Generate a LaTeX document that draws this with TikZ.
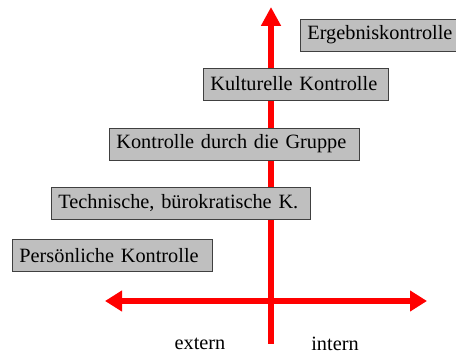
\documentclass[tikz,border=0pt]{standalone}
\usepackage{fontspec}
\setmainfont{Liberation Serif}
\usetikzlibrary{arrows.meta}
\begin{document}
\begin{tikzpicture}[
    x=1pt, y=-1pt,
    ctrlbox/.style={rectangle, draw=black!75, line width=0.8pt, fill=black!25, anchor=west, minimum height=32pt, inner xsep=7pt, align=left, font=\fontsize{20.3}{24}\selectfont},
    axislabel/.style={font=\fontsize{20.3}{24}\selectfont},
    axis/.style={red, line width=6pt}
]
\useasboundingbox (0,0) rectangle (456,358);

% Axis end points
\coordinate (vbot) at (271,344);
\coordinate (vtop) at (271,7);
\coordinate (hleft) at (105,301);
\coordinate (hright) at (427,301);

% Axes first (background)
\draw[axis, -{Triangle[length=19pt, width=19pt]}] (vbot) -- (vtop);
\draw[axis, {Triangle[length=17pt, width=20pt]}-{Triangle[length=17pt, width=20pt]}] (hleft) -- (hright);

% Kinds of control
\node[ctrlbox, text width=146pt] (ergebnis) at (300,35) {Ergebniskontrolle};
\node[ctrlbox, text width=171pt] (kultur) at (203,84) {Kulturelle Kontrolle};
\node[ctrlbox, text width=236pt] (gruppe) at (109,144) {Kontrolle durch die Gruppe};
\node[ctrlbox, text width=245pt] (technik) at (51,203.5) {Technische, bürokratische K.};
\node[ctrlbox, text width=186pt] (person) at (12,255.5) {Persönliche Kontrolle};

% Axis labels
\node[axislabel] (extern) at (200,344) {extern};
\node[axislabel] (intern) at (335,344) {intern};

\end{tikzpicture}
\end{document}
